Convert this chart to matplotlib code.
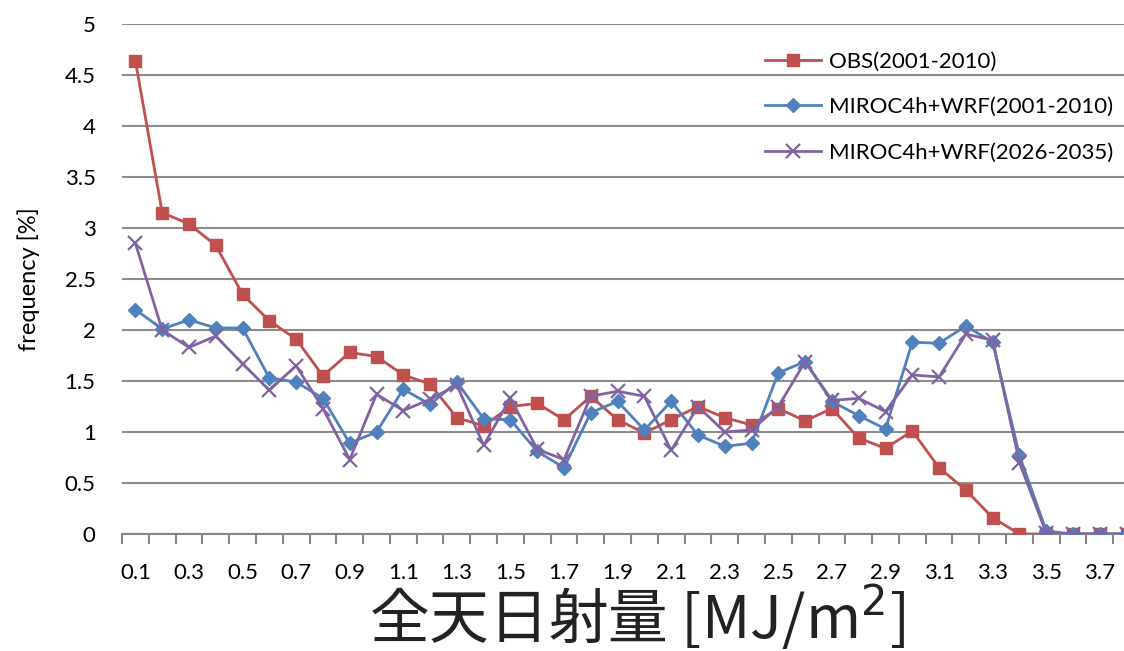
import numpy as np
import matplotlib
matplotlib.use('Agg')
import matplotlib.pyplot as plt
from matplotlib.ticker import FixedLocator

# dados
categorias = [0.1, 0.2, 0.3, 0.4, 0.5, 0.6, 0.7, 0.8, 0.9, 1.0,
              1.1, 1.2, 1.3, 1.4, 1.5, 1.6, 1.7, 1.8, 1.9, 2.0,
              2.1, 2.2, 2.3, 2.4, 2.5, 2.6, 2.7, 2.8, 2.9, 3.0,
              3.1, 3.2, 3.3, 3.4, 3.5, 3.6, 3.7, 3.8]

obs = [4.64, 3.15, 3.04, 2.83, 2.35, 2.09, 1.91, 1.55, 1.78, 1.74,
       1.56, 1.47, 1.14, 1.06, 1.25, 1.28, 1.12, 1.35, 1.12, 0.99,
       1.12, 1.25, 1.14, 1.07, 1.23, 1.11, 1.23, 0.94, 0.84, 1.01,
       0.65, 0.43, 0.16, 0.0, 0.0, 0.0, 0.0, 0.0]

miroc_atual = [2.20, 2.01, 2.10, 2.02, 2.02, 1.53, 1.49, 1.33, 0.89, 1.00,
               1.42, 1.27, 1.49, 1.13, 1.12, 0.81, 0.65, 1.19, 1.30, 1.02,
               1.30, 0.97, 0.86, 0.89, 1.58, 1.69, 1.30, 1.16, 1.03, 1.88,
               1.87, 2.04, 1.88, 0.77, 0.03, 0.0, 0.0, 0.0]

miroc_futuro = [2.85, 2.00, 1.83, 1.94, 1.67, 1.41, 1.65, 1.23, 0.73, 1.37,
                1.21, 1.32, 1.46, 0.87, 1.33, 0.83, 0.73, 1.35, 1.40, 1.35,
                0.82, 1.25, 1.00, 1.02, 1.25, 1.69, 1.31, 1.33, 1.20, 1.56,
                1.54, 1.96, 1.90, 0.70, 0.01, 0.0, 0.0, 0.0]

rotulos_x = ['0.1', '0.3', '0.5', '0.7', '0.9', '1.1', '1.3', '1.5', '1.7', '1.9',
             '2.1', '2.3', '2.5', '2.7', '2.9', '3.1', '3.3', '3.5', '3.7']
rotulos_y = ['0', '0.5', '1', '1.5', '2', '2.5', '3', '3.5', '4', '4.5', '5']

plt.rcParams['font.family'] = ['Lato', 'DejaVu Sans']

W, H = 1124, 651
fig = plt.figure(figsize=(W / 100, H / 100), dpi=100)
# eixo vai além da borda direita (imagem recortada)
esq, dir_, topo, base = 122, 1140, 24, 534
ax = fig.add_axes([esq / W, 1 - base / H, (dir_ - esq) / W, (base - topo) / H])

x = np.arange(len(categorias))
ax.plot(x, obs, '-s', color='#C0504D', lw=2.0, ms=8.5, label='OBS(2001-2010)',
        zorder=3)
ax.plot(x, miroc_atual, '-D', color='#4F81BD', lw=2.0, ms=7.5,
        label='MIROC4h+WRF(2001-2010)', zorder=4)
ax.plot(x, miroc_futuro, '-x', color='#8064A2', lw=2.0, ms=10, mew=1.6,
        label='MIROC4h+WRF(2026-2035)', zorder=5)

ax.set_xlim(-0.5, len(categorias) - 0.5)
ax.set_ylim(0, 5)
ax.set_yticks(np.arange(0, 5.01, 0.5))
ax.set_yticklabels(rotulos_y, fontsize=16)
ax.set_xticks(x[::2])
ax.set_xticklabels(rotulos_x, fontsize=16)
ax.tick_params(axis='x', which='major', length=0, pad=21)
ax.tick_params(axis='y', length=0, pad=19)
ax.xaxis.set_minor_locator(FixedLocator(np.arange(-0.5, len(categorias), 1)))
ax.tick_params(axis='x', which='minor', length=7, width=1.5, color='#868686',
               direction='out')

ax.grid(axis='y', color='#8c8c8c', lw=1.5)
ax.set_axisbelow(True)
for lado in ['left', 'right', 'top']:
    ax.spines[lado].set_visible(False)
ax.spines['bottom'].set_color('#868686')
ax.spines['bottom'].set_linewidth(1.5)

ax.set_ylabel('frequency [%]', fontsize=17)
ax.yaxis.set_label_coords(-(122 - 40) / (dir_ - esq), 0.5)
fig.text(0.567, 0.05, '全天日射量 [MJ/m$^2$]', fontsize=43, ha='center',
         va='center', family=['Noto Sans CJK JP', 'DejaVu Sans'], color='#222222')

ax.legend(loc='upper left', bbox_to_anchor=((745 - esq) / (dir_ - esq), 0.985),
          frameon=False, fontsize=16, handlelength=2.5, labelspacing=1.15,
          handletextpad=0.4)

fig.savefig('out.png', dpi=100)
